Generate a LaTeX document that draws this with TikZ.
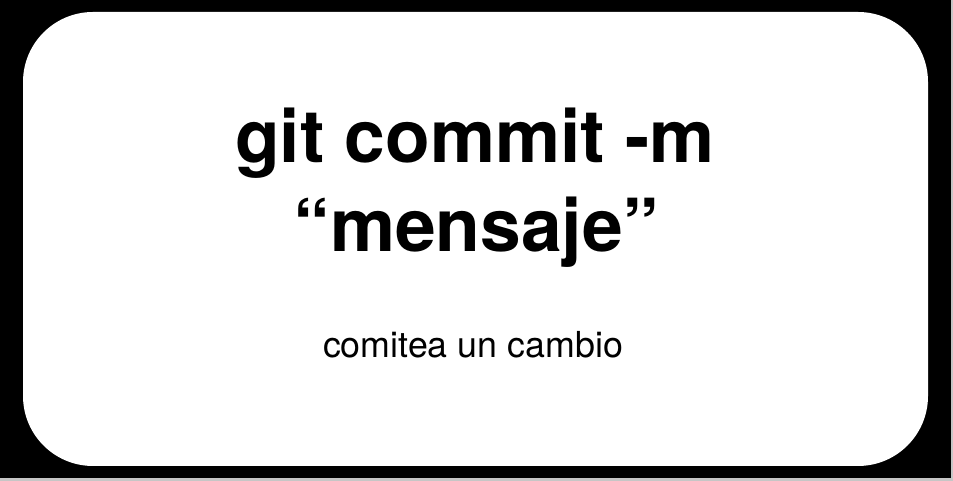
\documentclass[tikz,border=0pt]{standalone}
\usepackage{fontspec}
\setmainfont{TeX Gyre Heros}
\usepackage{tikz}

\begin{document}
\begin{tikzpicture}[x=1pt,y=1pt,
		bigtext/.style={anchor=base, inner sep=0pt, font=\fontsize{73.2}{81}\selectfont\bfseries},
		smalltext/.style={anchor=base, inner sep=0pt, font=\fontsize{35.8}{40}\selectfont}]
			\useasboundingbox (0,0) rectangle (953,481);
			\fill[gray!45] (0,0) rectangle (953,481);
			\fill[black] (0,3) rectangle (951,481);
			\fill[white, rounded corners=70pt] (23,15) rectangle (928,469);
			\node[bigtext] (cmd) at (475,318) {git commit -m};
			\node[bigtext] (msg) at (476.5,229) {“mensaje”};
			\node[smalltext] (desc) at (473,123) {comitea un cambio};
		\end{tikzpicture}
\end{document}
